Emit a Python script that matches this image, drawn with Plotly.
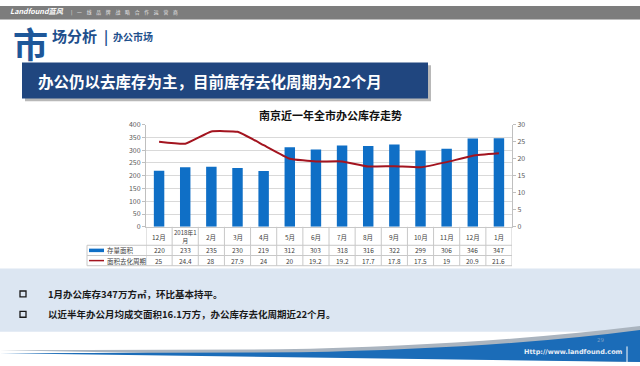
import plotly.graph_objects as go

# ---- data ----
categories = ["12月", "2018年1<br>月", "2月", "3月", "4月", "5月", "6月", "7月",
              "8月", "9月", "10月", "11月", "12月", "1月"]
stock_area = [220, 233, 235, 230, 219, 312, 303, 318, 316, 322, 299, 306, 346, 347]
cycle_months = [25, 24.4, 28, 27.9, 24, 20, 19.2, 19.2, 17.7, 17.8, 17.5, 19, 20.9, 21.6]
series_names = ["存量面积", "面积去化周期"]
left_ticks = [0, 50, 100, 150, 200, 250, 300, 350, 400]
right_ticks = [0, 5, 10, 15, 20, 25, 30]

W, H = 640, 366
FONT = "Noto Sans CJK SC"


def px(x):
    return x / W


def py(y):
    return 1 - y / H


n = len(categories)
xs = list(range(n))

# plot area in pixels
PL, PR, PT, PB = 146, 512, 122, 227

fig = go.Figure()
fig.add_trace(go.Bar(x=xs, y=stock_area, name=series_names[0], marker_color="#0f6fc6",
                     marker_line_width=0, width=0.4, yaxis="y"))
fig.add_trace(go.Scatter(x=xs, y=cycle_months, name=series_names[1], mode="lines",
                         line=dict(color="#a3141f", width=2, shape="spline", smoothing=0.35),
                         yaxis="y2"))

shapes = []
ann = []

# ---- header bar ----
shapes.append(dict(type="rect", xref="paper", yref="paper", x0=0, x1=1, y0=py(14), y1=py(0),
                   fillcolor="#7d7d7d", line_width=0, layer="below"))
ann.append(dict(x=px(9), y=py(5.5), xref="paper", yref="paper", xanchor="left", yanchor="middle",
                text="<b><i>Landfound蓝风</i></b>", showarrow=False, borderpad=0,
                font=dict(family=FONT, size=7.2, color="white")))
ann.append(dict(x=px(70), y=py(6), xref="paper", yref="paper", xanchor="left", yanchor="middle",
                text="|　一　线　品　牌　战　略　合　作　运　营　商", showarrow=False, borderpad=0,
                font=dict(family=FONT, size=4.8, color="#e8e8e8")))

# ---- section title ----
ann.append(dict(x=px(12), y=py(37.5), xref="paper", yref="paper", xanchor="left", yanchor="middle",
                text="<b>市</b>", showarrow=False, borderpad=0,
                font=dict(family=FONT, size=35, color="#1e5799")))
ann.append(dict(x=px(50), y=py(30), xref="paper", yref="paper", xanchor="left", yanchor="middle",
                text="<b>场分析</b>", showarrow=False,
                font=dict(family=FONT, size=15, color="#1e4f8c")))
ann.append(dict(x=px(102), y=py(31), xref="paper", yref="paper", xanchor="left", yanchor="middle",
                text="<b>|</b>", showarrow=False,
                font=dict(family=FONT, size=14, color="#1e4f8c")))
ann.append(dict(x=px(111), y=py(31), xref="paper", yref="paper", xanchor="left", yanchor="middle",
                text="<b>办公市场</b>", showarrow=False,
                font=dict(family=FONT, size=10, color="#1e4f8c")))

# ---- banner ----
shapes.append(dict(type="rect", xref="paper", yref="paper", x0=px(25), x1=px(431), y0=py(98), y1=py(61),
                   fillcolor="#9a9a9a", line_width=0, layer="below", opacity=0.7))
shapes.append(dict(type="rect", xref="paper", yref="paper", x0=px(22), x1=px(428), y0=py(95), y1=py(58),
                   fillcolor="#20467f", line_width=0, layer="below"))
ann.append(dict(x=px(36), y=py(77), xref="paper", yref="paper", xanchor="left", yanchor="middle",
                text="<b>办公仍以去库存为主，目前库存去化周期为22个月</b>", showarrow=False,
                font=dict(family=FONT, size=15.5, color="white")))

# ---- chart title ----
ann.append(dict(x=px(330), y=py(112), xref="paper", yref="paper", xanchor="center", yanchor="middle",
                text="<b>南京近一年全市办公库存走势</b>", showarrow=False,
                font=dict(family=FONT, size=11, color="#111111")))

# ---- data table ----
ROW_CAT_B, ROW1_B, ROW2_B = 246, 256.5, 267
TCOL = "#c8c8c8"
for i in range(n + 1):
    shapes.append(dict(type="line", xref="x", yref="paper", x0=i - 0.5, x1=i - 0.5,
                       y0=py(PB), y1=py(ROW2_B), line=dict(color=TCOL, width=1)))
shapes.append(dict(type="line", xref="paper", yref="paper", x0=px(87), x1=px(87),
                   y0=py(ROW_CAT_B), y1=py(ROW2_B), line=dict(color=TCOL, width=1)))
for yy in (ROW_CAT_B, ROW1_B, ROW2_B):
    shapes.append(dict(type="line", xref="paper", yref="paper", x0=px(87), x1=px(PR),
                       y0=py(yy), y1=py(yy), line=dict(color=TCOL, width=1)))

for i, c in enumerate(categories):
    two = "<br>" in c
    ann.append(dict(x=i, y=py((PB + ROW_CAT_B) / 2 + 0.5), xref="x", yref="paper", text=c,
                    showarrow=False, font=dict(family=FONT, size=6 if two else 6.5, color="#404040"),
                    xanchor="center", yanchor="middle", borderpad=0))
for i, v in enumerate(stock_area):
    ann.append(dict(x=i, y=py((ROW_CAT_B + ROW1_B) / 2), xref="x", yref="paper", text=f"{v:g}",
                    showarrow=False, font=dict(family=FONT, size=6.5, color="#404040"),
                    xanchor="center", yanchor="middle", borderpad=0))
for i, v in enumerate(cycle_months):
    ann.append(dict(x=i, y=py((ROW1_B + ROW2_B) / 2), xref="x", yref="paper", text=f"{v:g}",
                    showarrow=False, font=dict(family=FONT, size=6.5, color="#404040"),
                    xanchor="center", yanchor="middle", borderpad=0))

# legend keys in table
y1m = (ROW_CAT_B + ROW1_B) / 2
y2m = (ROW1_B + ROW2_B) / 2
shapes.append(dict(type="line", xref="paper", yref="paper", x0=px(89), x1=px(104),
                   y0=py(y1m), y1=py(y1m), line=dict(color="#0f6fc6", width=3.5)))
shapes.append(dict(type="line", xref="paper", yref="paper", x0=px(89), x1=px(104),
                   y0=py(y2m), y1=py(y2m), line=dict(color="#a3141f", width=1.5)))
ann.append(dict(x=px(106), y=py(y1m), xref="paper", yref="paper", text=series_names[0],
                showarrow=False, font=dict(family=FONT, size=6.5, color="#404040"),
                xanchor="left", yanchor="middle", borderpad=0))
ann.append(dict(x=px(106), y=py(y2m), xref="paper", yref="paper", text=series_names[1],
                showarrow=False, font=dict(family=FONT, size=6.5, color="#404040"),
                xanchor="left", yanchor="middle", borderpad=0))

# ---- bottom box ----
shapes.append(dict(type="rect", xref="paper", yref="paper", x0=0, x1=1, y0=py(335), y1=py(270),
                   fillcolor="#dce6f2", line_width=0, layer="below"))
for yb in (296, 317):
    shapes.append(dict(type="rect", xref="paper", yref="paper", x0=px(20), x1=px(26),
                       y0=py(yb + 3), y1=py(yb - 3), fillcolor="rgba(0,0,0,0)",
                       line=dict(color="#1a1a1a", width=1.3)))
ann.append(dict(x=px(46), y=py(296), xref="paper", yref="paper", xanchor="left", yanchor="middle",
                text="<b>1月办公库存347万方㎡，环比基本持平。</b>", showarrow=False,
                font=dict(family=FONT, size=9.5, color="#1a1a1a")))
ann.append(dict(x=px(46), y=py(317), xref="paper", yref="paper", xanchor="left", yanchor="middle",
                text="<b>以近半年办公月均成交面积16.1万方，办公库存去化周期近22个月。</b>", showarrow=False,
                font=dict(family=FONT, size=9.5, color="#1a1a1a")))


# ---- footer swoosh ----
def path(points_px):
    out = []
    for cmd, pts in points_px:
        coords = " ".join(f"{px(x):.5f},{py(y):.5f}" for x, y in pts)
        out.append(f"{cmd} {coords}")
    return " ".join(out) + " Z"


shapes.append(dict(type="path", xref="paper", yref="paper", layer="below",
                   path=path([("M", [(0, 354)]), ("L", [(280, 353)]),
                              ("Q", [(480, 349), (640, 329)]), ("L", [(640, 366), (0, 366)])]),
                   fillcolor="#aab4bf", line_width=0))
shapes.append(dict(type="path", xref="paper", yref="paper", layer="below",
                   path=path([("M", [(0, 357)]), ("L", [(300, 356)]),
                              ("Q", [(500, 352), (640, 333)]), ("L", [(640, 366), (0, 366)])]),
                   fillcolor="#1b6cb8", line_width=0))
shapes.append(dict(type="line", xref="paper", yref="paper", x0=px(627), x1=px(627),
                   y0=py(366), y1=py(350), line=dict(color="white", width=1)))
ann.append(dict(x=px(523), y=py(356), xref="paper", yref="paper", xanchor="left", yanchor="middle",
                text="<b>Http://www.landfound.com</b>", showarrow=False, borderpad=0,
                font=dict(family="DejaVu Sans", size=6.5, color="#e8eef6")))
ann.append(dict(x=px(600), y=py(343), xref="paper", yref="paper", xanchor="center", yanchor="middle",
                text="29", showarrow=False, borderpad=0,
                font=dict(family="DejaVu Sans", size=5.5, color="rgba(170,185,205,0.7)")))

fig.update_layout(
    width=W, height=H, autosize=False,
    margin=dict(l=0, r=0, t=0, b=0),
    paper_bgcolor="white", plot_bgcolor="white",
    showlegend=False, bargap=0.6,
    shapes=shapes, annotations=ann,
    xaxis=dict(domain=[px(PL), px(PR)], range=[-0.5, n - 0.5], showticklabels=False,
               showgrid=False, zeroline=False, showline=True, linecolor="#c8c8c8", ticks="",
               fixedrange=True),
    yaxis=dict(domain=[py(PB), py(PT)], range=[0, 400], tickvals=left_ticks,
               showgrid=True, gridcolor="#d9d9d9", gridwidth=1, zeroline=False,
               showline=True, linecolor="#bfbfbf", ticks="outside", ticklen=3, tickcolor="#bfbfbf",
               tickfont=dict(family=FONT, size=7, color="#595959")),
    yaxis2=dict(overlaying="y", side="right", range=[0, 30], tickvals=right_ticks,
                showgrid=False, zeroline=False, showline=True, linecolor="#bfbfbf",
                ticks="outside", ticklen=3, tickcolor="#bfbfbf",
                tickfont=dict(family=FONT, size=7, color="#595959")),
)

fig.write_html("out.html", config={"displayModeBar": False},
               post_script="document.body.style.margin='0';document.body.style.overflow='hidden';")
